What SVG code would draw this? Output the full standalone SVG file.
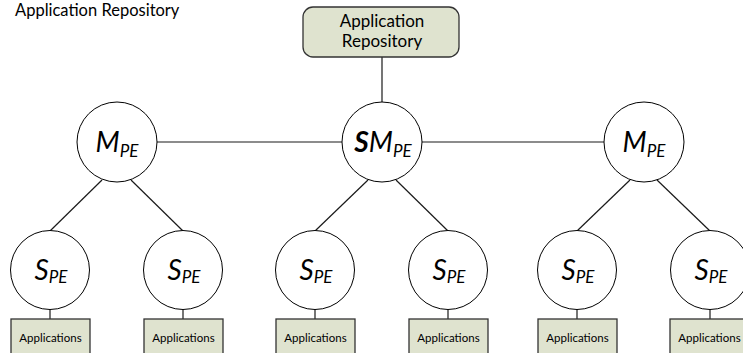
<svg xmlns="http://www.w3.org/2000/svg" width="743" height="353" viewBox="0 0 743 353">
  <style>
    .label { font-family: Lato, "Liberation Sans", sans-serif; fill: #000; }
    .title { font-size: 16.5px; }
    .node { fill: #fff; stroke: #000; stroke-width: 1; }
    .box { fill: #dfe3cf; stroke: #333; stroke-width: 1.3; }
    .sym { font-family: Lato, "Liberation Sans", sans-serif; font-style: italic; font-size: 28px; text-anchor: middle; }
    .sub { font-size: 17px; }
    .app { font-size: 11.5px; text-anchor: middle; }
    .conn line { stroke: #1a1a1a; stroke-width: 1.2; }
  </style>

  <!-- caption -->
  <text class="label title" x="15" y="16">Application Repository</text>

  <!-- connectors -->
  <g id="connectors" class="conn">
    <line x1="382" y1="57" x2="382" y2="102"/>
    <line x1="157" y1="142" x2="342" y2="142"/>
    <line x1="422" y1="142" x2="604" y2="142"/>
    <line x1="102" y1="180" x2="50" y2="231"/>
    <line x1="131" y1="180" x2="183" y2="231"/>
    <line x1="368" y1="180" x2="315" y2="231"/>
    <line x1="396" y1="180" x2="448" y2="231"/>
    <line x1="630" y1="180" x2="577" y2="231"/>
    <line x1="657" y1="180" x2="710" y2="231"/>
    <line x1="50" y1="309" x2="50" y2="319"/>
    <line x1="183" y1="309" x2="183" y2="319"/>
    <line x1="315" y1="309" x2="315" y2="319"/>
    <line x1="448" y1="309" x2="448" y2="319"/>
    <line x1="577" y1="309" x2="577" y2="319"/>
    <line x1="710" y1="309" x2="710" y2="319"/>
  </g>

  <!-- repository -->
  <g id="repo">
    <rect class="box" x="303" y="7" width="156" height="50" rx="10" ry="10"/>
    <text class="label" font-size="17" text-anchor="middle" x="382" y="27">Application</text>
    <text class="label" font-size="17" text-anchor="middle" x="382" y="47">Repository</text>
  </g>

  <!-- masters -->
  <g id="m-left">
    <circle class="node" cx="117" cy="142" r="40"/>
    <text class="sym" x="117" y="152">M<tspan class="sub" dy="5">PE</tspan></text>
  </g>
  <g id="sm-center">
    <circle class="node" cx="382" cy="142" r="40"/>
    <text class="sym" x="383" y="152"><tspan font-weight="bold">S</tspan>M<tspan class="sub" dy="5">PE</tspan></text>
  </g>
  <g id="m-right">
    <circle class="node" cx="644" cy="142" r="40"/>
    <text class="sym" x="644" y="152">M<tspan class="sub" dy="5">PE</tspan></text>
  </g>

  <!-- slaves -->
  <g id="s1">
    <circle class="node" cx="50" cy="270" r="39.5"/>
    <text class="sym" x="51" y="280">S<tspan class="sub" dy="3">PE</tspan></text>
  </g>
  <g id="s2">
    <circle class="node" cx="183" cy="270" r="39.5"/>
    <text class="sym" x="184" y="280">S<tspan class="sub" dy="3">PE</tspan></text>
  </g>
  <g id="s3">
    <circle class="node" cx="315" cy="270" r="39.5"/>
    <text class="sym" x="316" y="280">S<tspan class="sub" dy="3">PE</tspan></text>
  </g>
  <g id="s4">
    <circle class="node" cx="448" cy="270" r="39.5"/>
    <text class="sym" x="449" y="280">S<tspan class="sub" dy="3">PE</tspan></text>
  </g>
  <g id="s5">
    <circle class="node" cx="577" cy="270" r="39.5"/>
    <text class="sym" x="578" y="280">S<tspan class="sub" dy="3">PE</tspan></text>
  </g>
  <g id="s6">
    <circle class="node" cx="710" cy="270" r="39.5"/>
    <text class="sym" x="711" y="280">S<tspan class="sub" dy="3">PE</tspan></text>
  </g>

  <!-- application boxes -->
  <g id="apps1">
    <rect class="box" x="11" y="319" width="79" height="45"/>
    <text class="label app" x="50.5" y="342">Applications</text>
  </g>
  <g id="apps2">
    <rect class="box" x="144" y="319" width="79" height="45"/>
    <text class="label app" x="183.5" y="342">Applications</text>
  </g>
  <g id="apps3">
    <rect class="box" x="276" y="319" width="79" height="45"/>
    <text class="label app" x="315.5" y="342">Applications</text>
  </g>
  <g id="apps4">
    <rect class="box" x="409" y="319" width="79" height="45"/>
    <text class="label app" x="448.5" y="342">Applications</text>
  </g>
  <g id="apps5">
    <rect class="box" x="538" y="319" width="79" height="45"/>
    <text class="label app" x="577.5" y="342">Applications</text>
  </g>
  <g id="apps6">
    <rect class="box" x="670" y="319" width="79" height="45"/>
    <text class="label app" x="709.5" y="342">Applications</text>
  </g>
</svg>
